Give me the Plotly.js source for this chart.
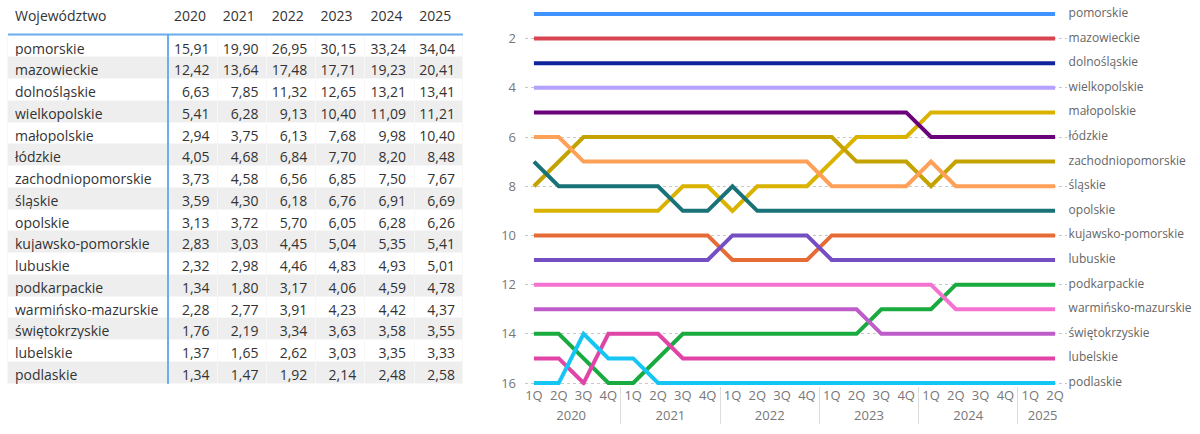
<!DOCTYPE html>
<html>
<head>
<meta charset="utf-8">
<script src="https://cdn.plot.ly/plotly-3.0.1.min.js"></script>
<style>html,body{margin:0;padding:0;background:#fff;}#chart{width:1200px;height:434px;}</style>
</head>
<body>
<div id="chart"></div>
<script>
// ---------- data ----------
const regions = ['pomorskie','mazowieckie','dolnośląskie','wielkopolskie','małopolskie','łódzkie','zachodniopomorskie','śląskie','opolskie','kujawsko-pomorskie','lubuskie','podkarpackie','warmińsko-mazurskie','świętokrzyskie','lubelskie','podlaskie'];
const tableYears = ['2020','2021','2022','2023','2024','2025'];
const v2020 = [15.91,12.42,6.63,5.41,2.94,4.05,3.73,3.59,3.13,2.83,2.32,1.34,2.28,1.76,1.37,1.34];
const v2021 = [19.90,13.64,7.85,6.28,3.75,4.68,4.58,4.30,3.72,3.03,2.98,1.80,2.77,2.19,1.65,1.47];
const v2022 = [26.95,17.48,11.32,9.13,6.13,6.84,6.56,6.18,5.70,4.45,4.46,3.17,3.91,3.34,2.62,1.92];
const v2023 = [30.15,17.71,12.65,10.40,7.68,7.70,6.85,6.76,6.05,5.04,4.83,4.06,4.23,3.63,3.03,2.14];
const v2024 = [33.24,19.23,13.21,11.09,9.98,8.20,7.50,6.91,6.28,5.35,4.93,4.59,4.42,3.58,3.35,2.48];
const v2025 = [34.04,20.41,13.41,11.21,10.40,8.48,7.67,6.69,6.26,5.41,5.01,4.78,4.37,3.55,3.33,2.58];

const quarterYears = ['2020','2020','2020','2020','2021','2021','2021','2021','2022','2022','2022','2022','2023','2023','2023','2023','2024','2024','2024','2024','2025','2025'];
const quarterLabels = ['1Q','2Q','3Q','4Q','1Q','2Q','3Q','4Q','1Q','2Q','3Q','4Q','1Q','2Q','3Q','4Q','1Q','2Q','3Q','4Q','1Q','2Q'];

const rankPomorskie      = [1,1,1,1,1,1,1,1,1,1,1,1,1,1,1,1,1,1,1,1,1,1];
const rankMazowieckie    = [2,2,2,2,2,2,2,2,2,2,2,2,2,2,2,2,2,2,2,2,2,2];
const rankDolnoslaskie   = [3,3,3,3,3,3,3,3,3,3,3,3,3,3,3,3,3,3,3,3,3,3];
const rankWielkopolskie  = [4,4,4,4,4,4,4,4,4,4,4,4,4,4,4,4,4,4,4,4,4,4];
const rankMalopolskie    = [9,9,9,9,9,9,8,8,9,8,8,8,7,6,6,6,5,5,5,5,5,5];
const rankLodzkie        = [5,5,5,5,5,5,5,5,5,5,5,5,5,5,5,5,6,6,6,6,6,6];
const rankZachodniopom   = [8,7,6,6,6,6,6,6,6,6,6,6,6,7,7,7,8,7,7,7,7,7];
const rankSlaskie        = [6,6,7,7,7,7,7,7,7,7,7,7,8,8,8,8,7,8,8,8,8,8];
const rankOpolskie       = [7,8,8,8,8,8,9,9,8,9,9,9,9,9,9,9,9,9,9,9,9,9];
const rankKujawsko       = [10,10,10,10,10,10,10,10,11,11,11,11,10,10,10,10,10,10,10,10,10,10];
const rankLubuskie       = [11,11,11,11,11,11,11,11,10,10,10,10,11,11,11,11,11,11,11,11,11,11];
const rankPodkarpackie   = [14,14,15,16,16,15,14,14,14,14,14,14,14,14,13,13,13,12,12,12,12,12];
const rankWarminsko      = [12,12,12,12,12,12,12,12,12,12,12,12,12,12,12,12,12,13,13,13,13,13];
const rankSwietokrzyskie = [13,13,13,13,13,13,13,13,13,13,13,13,13,13,14,14,14,14,14,14,14,14];
const rankLubelskie      = [15,15,16,14,14,14,15,15,15,15,15,15,15,15,15,15,15,15,15,15,15,15];
const rankPodlaskie      = [16,16,14,15,15,16,16,16,16,16,16,16,16,16,16,16,16,16,16,16,16,16];

const rankTickVals = [2,4,6,8,10,12,14,16];

// ---------- styles ----------
const lineColors = ['#4092FF','#D64550','#12239E','#B5A1FF','#D9B300','#6B007B','#C4A200','#FFA058','#197278','#E66C37','#744EC2','#1AAB40','#F472D0','#BE5DC9','#E044A7','#15C6F4'];
const ranks = [rankPomorskie,rankMazowieckie,rankDolnoslaskie,rankWielkopolskie,rankMalopolskie,rankLodzkie,rankZachodniopom,rankSlaskie,rankOpolskie,rankKujawsko,rankLubuskie,rankPodkarpackie,rankWarminsko,rankSwietokrzyskie,rankLubelskie,rankPodlaskie];
const FONT = '"Open Sans", "Noto Sans", sans-serif';

const fmt = v => v.toFixed(2).replace('.', ',');
const stripe = regions.map((_, i) => i % 2 === 1 ? '#eeeeee' : '#ffffff');

const tableTrace = {
  type: 'table',
  domain: {x: [7/1200, 464/1200], y: [0, 1 - 2/434]},
  columnwidth: [161, 50, 49, 49, 49, 50, 49],
  header: {
    values: ['Województwo'].concat(tableYears.map(y => y + '\u00a0')),
    align: ['left','right','right','right','right','right','right'],
    height: 33,
    fill: {color: '#ffffff'},
    line: {width: 0, color: '#ffffff'},
    font: {family: FONT, size: 14, color: '#333333'}
  },
  cells: {
    values: [regions, v2020.map(fmt), v2021.map(fmt), v2022.map(fmt), v2023.map(fmt), v2024.map(fmt), v2025.map(fmt)],
    align: ['left','right','right','right','right','right','right'],
    height: 21.75,
    fill: {color: [stripe, stripe, stripe, stripe, stripe, stripe, stripe]},
    line: {width: 1, color: '#f7f7f7'},
    font: {family: FONT, size: 14, color: '#333333'}
  }
};

const traces = [tableTrace];
regions.forEach((name, i) => {
  const r = ranks[i];
  traces.push({
    type: 'scatter',
    mode: 'lines+markers+text',
    x: [quarterYears, quarterLabels],
    y: r,
    text: r.map((_, k) => k === r.length - 1 ? name : ''),
    textposition: 'middle right',
    textfont: {family: FONT, size: 12, color: '#666666'},
    cliponaxis: false,
    line: {color: lineColors[i], width: 4},
    marker: {size: r.map((_, k) => k === r.length - 1 ? 20 : 0), opacity: 0, color: lineColors[i]},
    hoverinfo: 'skip',
    xaxis: 'x', yaxis: 'y'
  });
});

const layout = {
  width: 1200, height: 434,
  margin: {l: 0, r: 0, t: 0, b: 0},
  paper_bgcolor: '#ffffff', plot_bgcolor: '#ffffff',
  showlegend: false,
  font: {family: FONT, color: '#777777'},
  xaxis: {
    type: 'multicategory',
    domain: [525/1200, 1067/1200],
    range: [-0.36, 21.48],
    tickangle: 0,
    showgrid: false, zeroline: false, showline: false,
    showdividers: true, dividercolor: '#dddddd', dividerwidth: 1,
    tickfont: {family: FONT, size: 13, color: '#777777'},
    automargin: false
  },
  yaxis: {
    domain: [1 - 385.5/434, 1 - 10.3/434],
    range: [16.1, 0.85],
    tickvals: rankTickVals,
    showgrid: true, gridcolor: '#c8c8c8', griddash: 'dot', gridwidth: 1,
    zeroline: false, showline: false,
    tickfont: {family: FONT, size: 13, color: '#777777'},
    ticklabelstandoff: 8,
    automargin: false
  },
  shapes: [
    {type: 'line', xref: 'paper', yref: 'paper', x0: 8/1200, x1: 463/1200, y0: 1 - 34.5/434, y1: 1 - 34.5/434, line: {color: '#6aaef0', width: 2}},
    {type: 'line', xref: 'paper', yref: 'paper', x0: 168/1200, x1: 168/1200, y0: 1 - 34.5/434, y1: 1 - 384/434, line: {color: '#6aaef0', width: 2}}
  ]
};

Plotly.newPlot('chart', traces, layout, {staticPlot: true, displayModeBar: false});
</script>
</body>
</html>
